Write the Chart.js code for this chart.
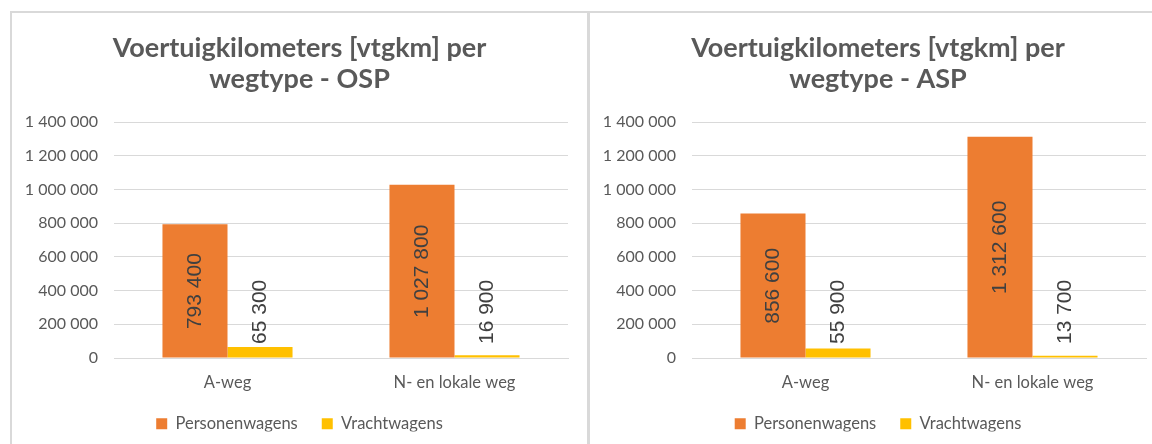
<!DOCTYPE html>
<html>
<head>
<meta charset="utf-8">
<script src="https://cdn.jsdelivr.net/npm/chart.js@4.4.1/dist/chart.umd.min.js"></script>
<style>
    html, body { margin: 0; padding: 0; background: #fff; }
    body { width: 1152px; height: 444px; overflow: hidden; position: relative; }
    .line { position: absolute; background: #d9d9d9; }
    canvas { position: absolute; top: 13px; }
</style>
</head>
<body>
<div class="line" style="left:10px; top:11px; width:1142px; height:2px;"></div>
<div class="line" style="left:10px; top:11px; width:2px; height:433px;"></div>
<div class="line" style="left:587px; top:11px; width:3px; height:433px;"></div>
<canvas id="chartOsp" width="575" height="431" style="left:12px;"></canvas>
<canvas id="chartAsp" width="576" height="431" style="left:590px;"></canvas>
<script>
// data
const categories = ['A-weg', 'N- en lokale weg'];
const seriesNames = ['Personenwagens', 'Vrachtwagens'];
const seriesColors = ['#ED7D31', '#FFC000'];
const ospPersonen = [793400, 1027800];
const ospVracht = [65300, 16900];
const aspPersonen = [856600, 1312600];
const aspVracht = [55900, 13700];
const yMax = 1400000;
const yStep = 200000;

// 1 400 000 style
function fmt(n) {
    return String(n).replace(/\B(?=(\d{3})+(?!\d))/g, ' ');
}

// waarden gedraaid in / boven de staven
const barLabels = {
    id: 'barLabels',
    afterDatasetsDraw(chart) {
        const ctx = chart.ctx;
        const base = chart.scales.y.getPixelForValue(0);
        chart.data.datasets.forEach((ds, i) => {
            chart.getDatasetMeta(i).data.forEach((bar, j) => {
                let y;
                ctx.save();
                ctx.font = '21px "Liberation Sans"';
                ctx.fillStyle = '#404040';
                ctx.textBaseline = 'middle';
                if (i === 0) {
                    ctx.textAlign = 'center';
                    y = (bar.y + base) / 2;
                } else {
                    ctx.textAlign = 'left';
                    y = Math.min(bar.y - 3, base - 14);
                }
                ctx.translate(bar.x, y);
                ctx.rotate(-Math.PI / 2);
                ctx.fillText(fmt(ds.data[j]), 0, 0);
                ctx.restore();
            });
        });
    }
};

function makeChart(id, titleText, personen, vracht, rightGap) {
    const ctx = document.getElementById(id).getContext('2d');
    return new Chart(ctx, {
        type: 'bar',
        data: {
            labels: categories,
            datasets: [
                { label: seriesNames[0], data: personen, backgroundColor: seriesColors[0] },
                { label: seriesNames[1], data: vracht, backgroundColor: seriesColors[1] }
            ]
        },
        options: {
            responsive: false,
            animation: false,
            devicePixelRatio: 1,
            categoryPercentage: 0.573,
            barPercentage: 1,
            layout: { padding: { left: 0, right: 0, top: 0, bottom: 12.5 } },
            plugins: {
                title: {
                    display: true,
                    text: ['Voertuigkilometers [vtgkm] per', titleText],
                    color: '#595959',
                    font: { family: 'Lato', size: 27, weight: 'bold', lineHeight: 31 / 27 },
                    padding: { top: 19.5, bottom: 27.5 }
                },
                legend: {
                    position: 'bottom',
                    maxHeight: 40,
                    labels: {
                        color: '#595959',
                        font: { family: 'Lato', size: 16.5 },
                        boxWidth: 11,
                        boxHeight: 11,
                        padding: 24
                    }
                },
                tooltip: { enabled: false }
            },
            scales: {
                x: {
                    grid: { display: false, drawTicks: false },
                    border: { color: '#d9d9d9', width: 1 },
                    ticks: { color: '#595959', font: { family: 'Lato', size: 16.5 }, padding: 15 },
                    afterFit(scale) { scale.height = 33.5; }
                },
                y: {
                    min: 0,
                    max: yMax,
                    grid: { color: '#d9d9d9', drawTicks: false },
                    border: { display: false },
                    ticks: {
                        stepSize: yStep,
                        color: '#595959',
                        font: { family: 'Lato', size: 16 },
                        padding: 16,
                        callback: v => fmt(v)
                    },
                    afterFit(scale) { scale.width = 102; }
                },
                // lege as rechts: houdt ruimte vrij zodat titel/legenda gecentreerd blijven
                gap: {
                    type: 'linear',
                    position: 'right',
                    grid: { display: false, drawTicks: false },
                    border: { display: false },
                    ticks: { display: false },
                    afterFit(scale) { scale.width = rightGap; }
                }
            }
        },
        plugins: [barLabels]
    });
}

makeChart('chartOsp', 'wegtype - OSP', ospPersonen, ospVracht, 19);
makeChart('chartAsp', 'wegtype - ASP', aspPersonen, aspVracht, 20);
</script>
</body>
</html>
